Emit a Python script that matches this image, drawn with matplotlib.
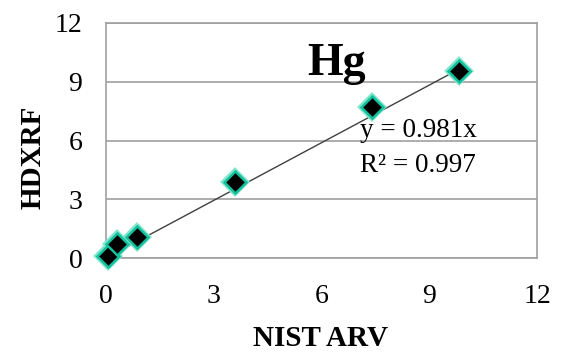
import matplotlib.pyplot as plt
import numpy as np

# NIST ARV vs HDXRF values for Hg
nist_arv = [0.05, 0.3, 0.87, 3.6, 7.4, 9.83]
hdxrf = [0.1, 0.7, 1.07, 3.9, 7.7, 9.54]
slope = 0.981
r2 = 0.997
ticks = [0, 3, 6, 9, 12]

plt.rcParams['font.family'] = ['Liberation Serif', 'DejaVu Serif']

fig = plt.figure(figsize=(5.64, 3.54), dpi=100)
ax = fig.add_axes([106 / 564, 1 - 258 / 354, (537 - 106) / 564, (258 - 23) / 354])

# linea de tendencia
xl = np.array([0, max(nist_arv)])
ax.plot(xl, slope * xl, color='#404040', lw=1.0, zorder=2)

# puntos con borde verde azulado
ax.plot(nist_arv, hdxrf, linestyle='none', marker='D', markersize=11, clip_on=False,
        markerfacecolor='black', markeredgecolor='#80e6cc', markeredgewidth=4, zorder=3)
ax.plot(nist_arv, hdxrf, linestyle='none', marker='D', markersize=11, clip_on=False,
        markerfacecolor='black', markeredgecolor='#12c09c', markeredgewidth=1.8, zorder=4)

ax.set_xlim(0, 12)
ax.set_ylim(0, 12)
ax.set_xticks(ticks)
ax.set_yticks(ticks)
ax.tick_params(length=0, labelsize=20)
ax.tick_params(axis='x', pad=19)
ax.tick_params(axis='y', pad=17)
ax.grid(axis='y', color='#a0a0a0', lw=1.2)
ax.set_axisbelow(True)
for s in ax.spines.values():
    s.set_color('#a0a0a0')
    s.set_linewidth(1.2)

ax.set_xlabel('NIST ARV', fontsize=21, fontweight='bold')
ax.set_ylabel('HDXRF', fontsize=21, fontweight='bold')
ax.xaxis.set_label_coords(0.497, -0.285)
ax.yaxis.set_label_coords(-0.139, 0.43)

ax.text(0.466, 0.779, 'Hg', transform=ax.transAxes, fontsize=33,
        fontweight='bold', va='baseline')
ax.text(0.589, 0.515, f'y = {slope}x', transform=ax.transAxes, fontsize=19.5, va='baseline')
ax.text(0.589, 0.366, f'R² = {r2}', transform=ax.transAxes, fontsize=19.5, va='baseline')

fig.savefig('out.png', dpi=100)
